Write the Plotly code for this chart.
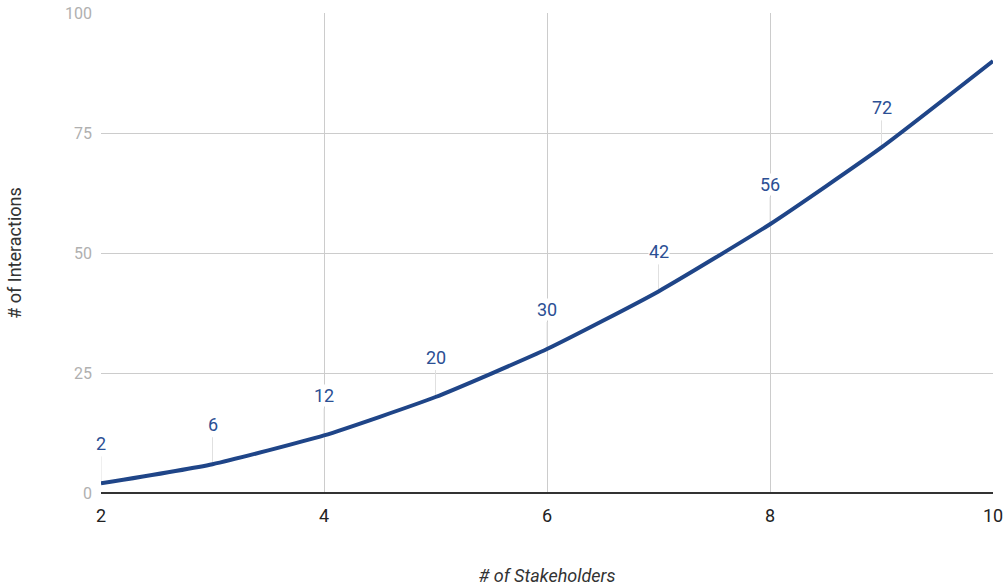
import plotly.graph_objects as go

stakeholders = [2, 3, 4, 5, 6, 7, 8, 9, 10]
interactions = [2, 6, 12, 20, 30, 42, 56, 72, 90]
labeled = [True, True, True, True, True, True, True, True, False]

line_color = "#1f4588"
label_color = "#2b4f94"

fig = go.Figure()
fig.add_trace(go.Scatter(
    x=stakeholders, y=interactions, mode="lines",
    line=dict(color=line_color, width=4, shape="spline", smoothing=0.5),
    hoverinfo="x+y", showlegend=False,
))

annotations = []
shapes = []
for x, y, show in zip(stakeholders, interactions, labeled):
    if not show:
        continue
    annotations.append(dict(
        x=x, y=y, xref="x", yref="y", text=str(y),
        showarrow=False, yshift=40,
        font=dict(family="Roboto", size=18, color=label_color),
        bgcolor="white", borderpad=0,
    ))
    shapes.append(dict(
        type="line", xref="x", yref="y", x0=x, x1=x,
        ysizemode="pixel", yanchor=y, y0=0, y1=27,
        line=dict(color="#e0e0e0", width=1), layer="between",
    ))

fig.update_layout(
    width=1005, height=586,
    margin=dict(l=101, r=12, t=13, b=93, autoexpand=False),
    paper_bgcolor="white", plot_bgcolor="white",
    font=dict(family="Roboto"),
    annotations=annotations,
    shapes=shapes,
    xaxis=dict(
        range=[2, 10], tickvals=[2, 4, 6, 8, 10],
        showgrid=True, gridcolor="#cccccc", gridwidth=1,
        zeroline=False, showline=False, automargin=False,
        tickfont=dict(family="Roboto", size=18, color="#222222"),
        ticks="", ticklabelstandoff=10,
        title=dict(text="<i># of Stakeholders</i>", font=dict(family="Roboto", size=18, color="#333333"), standoff=45),
    ),
    yaxis=dict(
        range=[0, 100], tickvals=[0, 25, 50, 75, 100],
        showgrid=True, gridcolor="#cccccc", gridwidth=1,
        zeroline=True, zerolinecolor="#333333", zerolinewidth=2,
        showline=False, automargin=False,
        tickfont=dict(family="Roboto", size=16, color="#b0b0b0"),
        ticks="", ticklabelstandoff=8,
        title=dict(text="# of Interactions", font=dict(family="Roboto", size=18, color="#333333"), standoff=38),
    ),
)

fig.write_html(
    "out.html",
    config={"displayModeBar": False},
    post_script="document.body.style.margin='0';document.body.style.overflow='hidden';",
)
